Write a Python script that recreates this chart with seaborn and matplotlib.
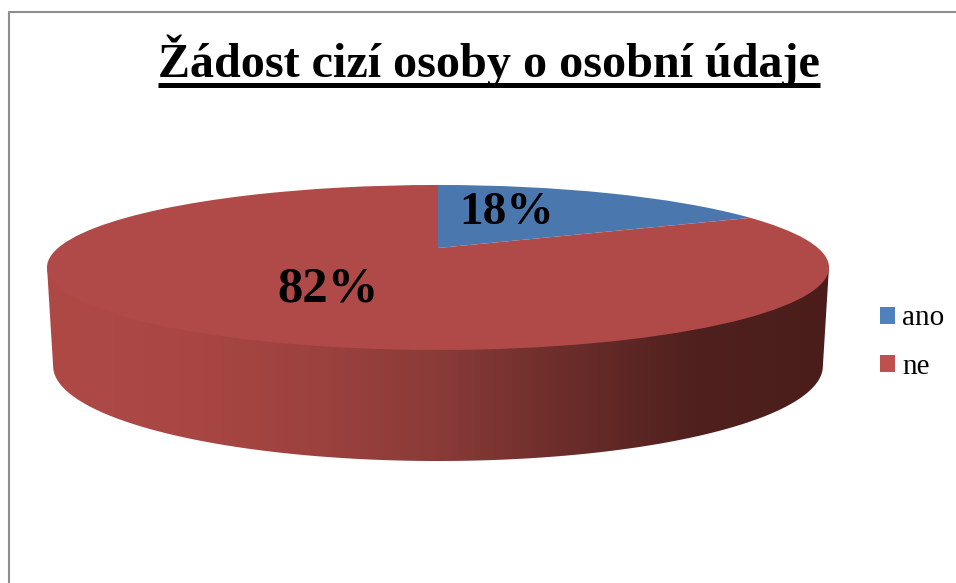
import numpy as np
import matplotlib
matplotlib.use('Agg')
import matplotlib.pyplot as plt
import seaborn as sns
from matplotlib.patches import Patch, Polygon
from matplotlib.transforms import Transform

# Data
categories = ['ano', 'ne']
percent_values = [18, 82]
title_text = 'Žádost cizí osoby o osobní údaje'

# Colours
top_colors = ['#4A78AE', '#B04A48']
legend_colors = ['#4F81BD', '#C0504D']
side_colors = ['#AE4946', '#AA4744', '#9E423F', '#8A3B38', '#6B2D2A', '#4F201E', '#4A1D1B']

sns.set_theme(style='white')
plt.rcParams['font.family'] = ['Liberation Serif', 'DejaVu Serif']

TILT = 0.236


# Tilts the flat pie so the far side looks smaller, result is in picture pixels
class TiltedDisc(Transform):
    input_dims = 2
    output_dims = 2
    has_inverse = False

    def __init__(self, cx, cy, a, b, k=TILT):
        super().__init__()
        self.cx, self.cy, self.a, self.b, self.k = cx, cy, a, b, k

    def transform_non_affine(self, values):
        u, v = np.asarray(values).T
        d = 1 + self.k * v
        return np.column_stack([self.cx + self.a * u / d, self.cy - self.b * v / d])


fig = plt.figure(figsize=(9.56, 5.83), dpi=100)
ax = fig.add_axes([0, 0, 1, 1])

top_disc = TiltedDisc(438, 248, 380, 77.9)
low_disc = TiltedDisc(438, 343.6, 374, 89.7)

wedges, _, autotexts = ax.pie(
    percent_values, colors=sns.color_palette(top_colors), startangle=90, counterclock=False,
    autopct=lambda p: f'{p:.0f}%', wedgeprops={'linewidth': 0},
    textprops={'fontweight': 'bold', 'color': 'black'},
)
ax.set_aspect('auto')
ax.axis('off')

for wedge in wedges:
    wedge.set_transform(top_disc + ax.transData)
    wedge.set_zorder(3)

# Percent labels sit by hand on the top face
for text, pos, size in zip(autotexts, [(507, 213), (328, 290)], [34, 36.5]):
    text.set_position(pos)
    text.set_fontsize(size)
    text.set_zorder(4)

# Side wall: gradient clipped to the outline below the top face
widest = np.arcsin(TILT)
theta = np.linspace(np.pi + widest, 2 * np.pi - widest, 200)
low_edge = low_disc.transform_non_affine(np.column_stack([np.cos(theta), np.sin(theta)]))
side_outline = np.vstack([[47, 267], low_edge, [829, 267]])
side_gradient = sns.blend_palette(side_colors, n_colors=256, as_cmap=True)
image = ax.imshow(np.linspace(0, 1, 400).reshape(1, -1), cmap=side_gradient, aspect='auto',
                  extent=(47, 829, 470, 250), zorder=2)
clip = Polygon(side_outline, closed=True, transform=ax.transData, facecolor='none', edgecolor='none')
ax.add_patch(clip)
image.set_clip_path(clip)
ax.set_xlim(0, 956)
ax.set_ylim(583, 0)

# Chart frame, open on the right and at the bottom
ax.plot([9.5, 9.5, 956], [583, 12, 12], color='#8E8E8E', lw=1.5, clip_on=False, zorder=1)

# Title with its underline
ax.text(489, 77, title_text, fontsize=34.7, fontweight='bold', ha='center', va='baseline', color='black', zorder=5)
ax.plot([158, 820], [85, 85], color='black', lw=3.6, solid_capstyle='butt', zorder=5)

handles = [Patch(facecolor=c, edgecolor='none', label=n) for c, n in zip(legend_colors, categories)]
ax.legend(handles=handles, loc='center left', bbox_to_anchor=(880 / 956, 1 - 342.5 / 583), frameon=False,
          fontsize=21, handlelength=0.52, handleheight=0.52, handletextpad=0.24, labelspacing=0.76,
          borderpad=0, borderaxespad=0, labelcolor='black')

fig.savefig('out.png', dpi=100)
